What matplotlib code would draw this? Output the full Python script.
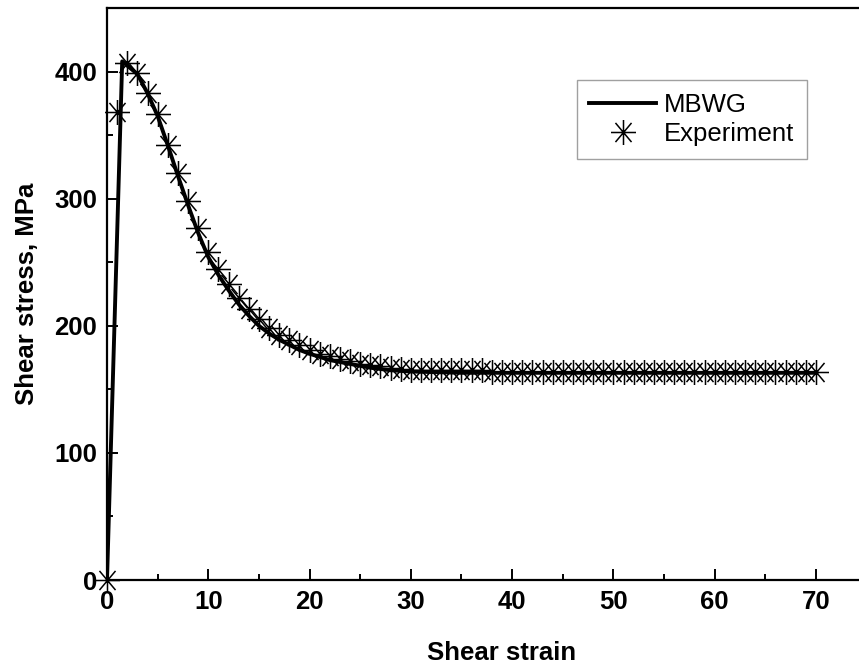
import numpy as np
import matplotlib
matplotlib.use("Agg")
import matplotlib.pyplot as plt
from matplotlib.path import Path
from matplotlib.ticker import MultipleLocator

plt.rcParams['font.family'] = ['Liberation Sans', 'DejaVu Sans']

# MBWG model curve
model_strain = [0, 1.5, 3, 4, 5, 6, 7, 8, 9, 10, 11, 12, 13, 14, 15, 16, 17, 18, 19, 20,
                22, 24, 26, 28, 30, 35, 40, 50, 60, 70]
model_stress = [0, 408, 398, 383, 365, 342, 318, 295, 273, 254, 240, 228, 217, 208, 200, 194, 189, 185, 181, 178,
                173, 170, 167, 165, 164, 163, 163, 163, 163, 163]

# experimental points, one per unit of strain
exp_strain = list(range(0, 71))
exp_stress = [0, 368, 407, 399, 383, 367, 342, 320, 298, 277,
              258, 245, 233, 222, 213, 205, 198, 193, 189, 185,
              181, 178, 176, 174, 172, 170, 169, 168, 167, 166,
              165, 165, 165, 165, 165, 165, 165, 165, 164, 164,
              164, 164, 164, 164, 164, 164, 164, 164, 164, 164,
              164, 164, 164, 164, 164, 164, 164, 164, 164, 164,
              164, 164, 164, 164, 164, 164, 164, 164, 164, 164,
              164]

# asterisk symbol: horizontal, vertical and two diagonal strokes
a = np.deg2rad(50)
c, s = np.cos(a), np.sin(a)
star = Path([(-1, 0), (1, 0), (0, -1), (0, 1), (-c, -s), (c, s), (-c, s), (c, -s)],
            [Path.MOVETO, Path.LINETO] * 4)

fig = plt.figure(figsize=(8.59, 6.68), dpi=100)
# axes run past the right edge of the figure
ax = fig.add_axes([107 / 859, 88 / 668, 790 / 859, 572 / 668])

ax.plot(model_strain, model_stress, color='black', lw=2.8, label='MBWG', zorder=3)
ax.plot(exp_strain, exp_stress, linestyle='none', marker=star, markersize=18,
        markeredgewidth=1.1, markeredgecolor='black', markerfacecolor='none',
        label='Experiment', clip_on=False, zorder=2)

ax.set_xlim(0, 78)
ax.set_ylim(0, 450)
ax.xaxis.set_major_locator(MultipleLocator(10))
ax.xaxis.set_minor_locator(MultipleLocator(5))
ax.yaxis.set_major_locator(MultipleLocator(100))
ax.yaxis.set_minor_locator(MultipleLocator(50))

for sp in ax.spines.values():
    sp.set_linewidth(1.6)
ax.tick_params(which='both', direction='in', top=False, right=False, width=1.4)
ax.tick_params(which='major', length=8, labelsize=18.5, pad=7)
ax.tick_params(which='minor', length=4.5)
for lab in ax.get_xticklabels() + ax.get_yticklabels():
    lab.set_fontweight('bold')

ax.set_xlabel('Shear strain', fontsize=18.5, fontweight='bold', labelpad=20)
ax.set_ylabel('Shear stress, MPa', fontsize=18.5, fontweight='bold', labelpad=11)

leg = ax.legend(loc='upper right', bbox_to_anchor=(807 / 859, 1 - 80 / 668),
                bbox_transform=fig.transFigure, fontsize=18.5, frameon=True,
                fancybox=False, handlelength=2.6, handletextpad=0.3,
                borderpad=0.5, labelspacing=0.2, markerscale=1.0,
                borderaxespad=0)
leg.get_frame().set_edgecolor('#888888')
leg.get_frame().set_linewidth(1.0)

fig.savefig('out.png', dpi=100)
